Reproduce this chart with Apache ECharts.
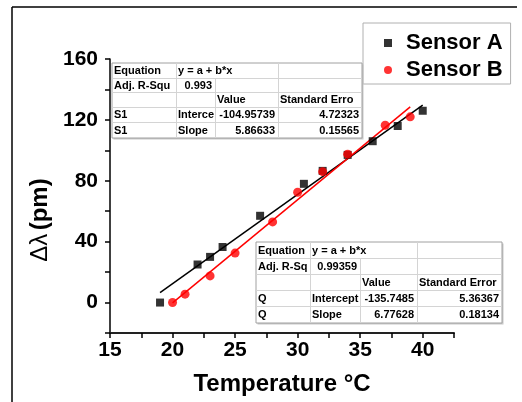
<!DOCTYPE html>
<html>
<head>
<meta charset="utf-8">
<script src="https://cdn.jsdelivr.net/npm/echarts@6/dist/echarts.min.js"></script>
<style>html,body{margin:0;padding:0;background:#fff;}#c{width:522px;height:402px;}</style>
</head>
<body>
<div id="c"></div>
<script>
// ---- data ----
const sensorA_T  = [19, 22, 23, 24, 27, 30.5, 32, 34, 36, 38, 40];
const sensorA_dL = [0, 25, 30, 36.5, 57, 78, 86.5, 97, 106, 116, 126];
const sensorB_T  = [20, 21, 23, 25, 28, 30, 32, 34, 37, 39];
const sensorB_dL = [0, 5.5, 17.5, 32.5, 53, 72.5, 86, 97.5, 116.5, 122];
// fitted coefficients shown in the tables
const fitA = { a: -104.95739, b: 5.86633, from: 19, to: 40 };
const fitB = { a: -135.7485, b: 6.77628, from: 20, to: 39 };
const xLabels = [15, 20, 25, 30, 35, 40];
const yLabels = [0, 40, 80, 120, 160];
const legendNames = ['Sensor A', 'Sensor B'];
const table1 = [
  ['Equation', 'y = a + b*x', '', ''],
  ['Adj. R-Squ', '0.993', '', ''],
  ['', '', 'Value', 'Standard Erro'],
  ['S1', 'Interce', '-104.95739', '4.72323'],
  ['S1', 'Slope', '5.86633', '0.15565']
];
const table2 = [
  ['Equation', 'y = a + b*x', '', ''],
  ['Adj. R-Sq', '0.99359', '', ''],
  ['', '', 'Value', 'Standard Error'],
  ['Q', 'Intercept', '-135.7485', '5.36367'],
  ['Q', 'Slope', '6.77628', '0.18134']
];

// ---- helpers ----
function fitLine(f) { return [[f.from, f.a + f.b * f.from], [f.to, f.a + f.b * f.to]]; }
function isRight(r, c) { return (r === 1 && c === 1) || (r >= 3 && c >= 2); }
function tableGraphic(cells, colsX, rowsY) {
  const els = [];
  const x0 = colsX[0], x1 = colsX[colsX.length - 1], y0 = rowsY[0], y1 = rowsY[rowsY.length - 1];
  els.push({ type: 'rect', shape: { x: x0 + 1.5, y: y0 + 1.5, width: x1 - x0, height: y1 - y0 }, style: { fill: '#c8c8c8' }, z: 100 });
  els.push({ type: 'rect', shape: { x: x0, y: y0, width: x1 - x0, height: y1 - y0 }, style: { fill: '#fff', stroke: '#a0a0a0', lineWidth: 1 }, z: 101 });
  for (let r = 1; r < rowsY.length - 1; r++) {
    els.push({ type: 'line', shape: { x1: x0, y1: rowsY[r] + 0.5, x2: x1, y2: rowsY[r] + 0.5 }, style: { stroke: '#d4d4d4', lineWidth: 1 }, z: 102 });
  }
  for (let r = 0; r < rowsY.length - 1; r++) {
    for (let c = 1; c < colsX.length - 1; c++) {
      if (r === 0 && c === 2) continue;
      els.push({ type: 'line', shape: { x1: colsX[c] + 0.5, y1: rowsY[r], x2: colsX[c] + 0.5, y2: rowsY[r + 1] }, style: { stroke: '#d4d4d4', lineWidth: 1 }, z: 102 });
    }
  }
  cells.forEach((row, r) => {
    row.forEach((t, c) => {
      if (!t) return;
      const right = isRight(r, c);
      els.push({
        type: 'text', z: 103,
        style: {
          text: t, x: right ? colsX[c + 1] - 3 : colsX[c] + 2, y: (rowsY[r] + rowsY[r + 1]) / 2 + 0.5,
          align: right ? 'right' : 'left', verticalAlign: 'middle',
          font: 'bold 11px "Liberation Sans", Arial, sans-serif', fill: '#000'
        }
      });
    });
  });
  return els;
}

const chart = echarts.init(document.getElementById('c'), null, { renderer: 'canvas' });
const FONT = '"Liberation Sans", Arial, sans-serif';

chart.setOption({
  backgroundColor: '#fff',
  animation: false,
  grid: { left: 110, right: 68, top: 59, bottom: 69, containLabel: false },
  legend: {
    orient: 'vertical', left: 363, top: 23,
    padding: [9, 8, 3, 21], itemGap: 5,
    itemWidth: 8, itemHeight: 8,
    borderColor: '#b0b0b0', borderWidth: 1, backgroundColor: '#fff',
    textStyle: { fontFamily: FONT, fontWeight: 'bold', fontSize: 22, color: '#000', padding: [0, 0, 0, 9] },
    data: [{ name: legendNames[0], icon: 'rect' }, { name: legendNames[1], icon: 'circle' }]
  },
  xAxis: {
    type: 'value', min: 15, max: 42.5, interval: 2.5, position: 'bottom',
    name: 'Temperature °C', nameLocation: 'middle', nameGap: 39,
    nameTextStyle: { fontFamily: FONT, fontWeight: 'bold', fontSize: 24, color: '#000' },
    axisLine: { show: true, onZero: false, lineStyle: { color: '#222', width: 2 } },
    axisTick: { show: true, inside: false, length: 5, lineStyle: { color: '#000', width: 1.5 } },
    axisLabel: { customValues: xLabels, margin: 7, fontFamily: FONT, fontWeight: 'bold', fontSize: 21, color: '#000' },
    splitLine: { show: false }
  },
  yAxis: {
    type: 'value', min: -20, max: 160, interval: 20, position: 'left',
    axisLine: { show: true, onZero: false, lineStyle: { color: '#000', width: 1.5 } },
    axisTick: { show: true, length: 5, lineStyle: { color: '#000', width: 1.5 } },
    axisLabel: { customValues: yLabels, margin: 12, fontFamily: FONT, fontWeight: 'bold', fontSize: 21, color: '#000' },
    splitLine: { show: false }
  },
  series: [
    {
      name: 'fitA', type: 'line', data: fitLine(fitA), symbol: 'none',
      lineStyle: { color: '#000', width: 1.5 }, z: 2, silent: true
    },
    {
      name: 'fitB', type: 'line', data: fitLine(fitB), symbol: 'none',
      lineStyle: { color: '#ff0000', width: 1.5 }, z: 2, silent: true
    },
    {
      name: legendNames[0], type: 'scatter', symbol: 'rect', symbolSize: 8,
      itemStyle: { color: '#000' }, z: 3,
      data: sensorA_T.map((t, i) => [t, sensorA_dL[i]])
    },
    {
      name: legendNames[1], type: 'scatter', symbol: 'circle', symbolSize: 9,
      itemStyle: { color: '#ff0000' }, z: 4,
      data: sensorB_T.map((t, i) => [t, sensorB_dL[i]])
    }
  ],
  graphic: [
    { type: 'line', shape: { x1: 12, y1: 7, x2: 517, y2: 7 }, style: { stroke: '#000', lineWidth: 1.5 } },
    { type: 'line', shape: { x1: 12, y1: 7, x2: 12, y2: 402 }, style: { stroke: '#000', lineWidth: 1.5 } },
    {
      type: 'text', x: 40, y: 220, rotation: Math.PI / 2,
      style: {
        text: '{g|Δλ} {b|(pm)}', align: 'center', verticalAlign: 'middle',
        rich: {
          g: { fontFamily: FONT, fontSize: 24, fontWeight: 'normal', fill: '#000' },
          b: { fontFamily: FONT, fontSize: 24, fontWeight: 'bold', fill: '#000' }
        }
      }
    },
    { type: 'group', children: tableGraphic(table1, [112, 176, 215, 278, 362], [63, 78, 92, 107, 122, 138]) },
    { type: 'group', children: tableGraphic(table2, [256, 310, 360, 417, 502], [242, 258, 274, 290, 306, 323]) }
  ]
});
</script>
</body>
</html>
